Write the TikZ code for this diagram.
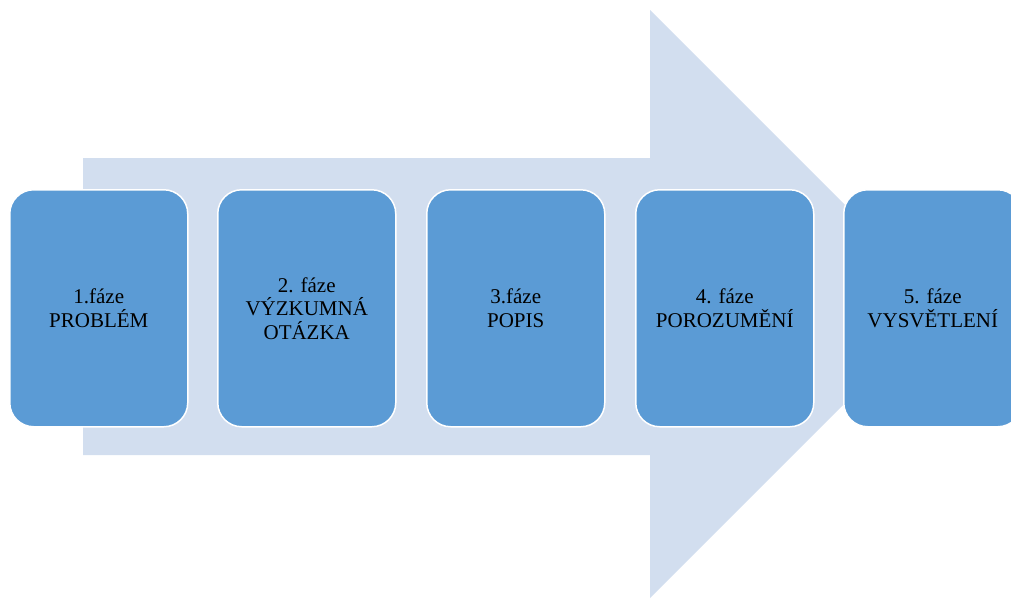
\documentclass[tikz,border=0pt]{standalone}
\usepackage{fontspec}
\setmainfont{Liberation Serif}
\definecolor{arrowfill}{HTML}{D2DEEF}
\definecolor{boxfill}{HTML}{5B9BD5}
\begin{document}
\frenchspacing
\begin{tikzpicture}[x=1pt,y=-1pt,
  phase/.style={draw=white, line width=1.5pt, fill=boxfill, rounded corners=24pt,
    minimum width=178pt, minimum height=237pt, inner sep=0pt, anchor=north west,
    align=center, text width=170pt, font=\fontsize{21}{23.5}\selectfont}]
\useasboundingbox (0,0) rectangle (1011,598);
\clip (0,0) rectangle (1011,598);
\fill[arrowfill] (83,158) -- (650,158) -- (650,10) -- (944,304) -- (650,598) -- (650,455) -- (83,455) -- cycle;
\node[phase] (p1) at (9,189) {1.fáze\\PROBLÉM};
\node[phase] (p2) at (217,189) {2. fáze\\VÝZKUMNÁ\\OTÁZKA};
\node[phase] (p3) at (426,189) {3.fáze\\POPIS};
\node[phase] (p4) at (635,189) {4. fáze\\POROZUMĚNÍ};
\node[phase] (p5) at (843,189) {5. fáze\\VYSVĚTLENÍ};
\end{tikzpicture}
\end{document}
